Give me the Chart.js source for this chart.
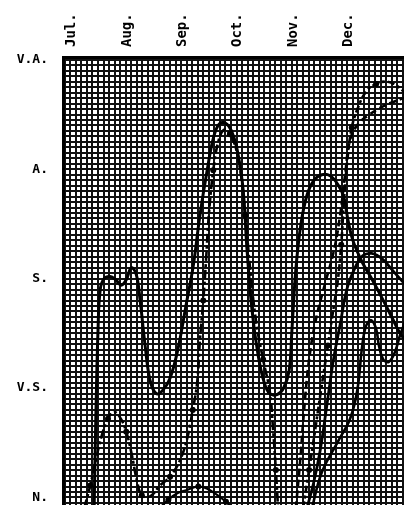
<!DOCTYPE html>
<html>
<head>
<meta charset="utf-8">
<script src="https://cdn.jsdelivr.net/npm/chart.js@4.4.1/dist/chart.umd.min.js"></script>
<style>
  html, body { margin: 0; padding: 0; background: #fff; }
</style>
</head>
<body>
<canvas id="chart" width="404" height="505"></canvas>
<script>
// month ticks along the top (0 = Jul.)
const months = ['Jul.', 'Aug.', 'Sep.', 'Oct.', 'Nov.', 'Dec.'];
const monthVals = [0, 1, 2, 3, 4, 5];

// levels up the left side
const levels = ['N.', 'V.S.', 'S.', 'A.', 'V.A.'];
const levelVals = [0, 1, 2, 3, 4];

// curves: [month position, level]
const mainCurve = [
  [0.43,-0.10],[0.46,0.71],[0.50,1.53],[0.54,1.90],[0.61,2.00],[0.72,2.02],[0.82,1.99],
  [0.92,1.94],[1.01,1.99],[1.10,2.10],[1.19,2.04],[1.26,1.80],[1.35,1.39],[1.44,1.07],
  [1.55,0.95],[1.67,0.98],[1.80,1.09],[1.94,1.35],[2.09,1.76],[2.22,2.12],[2.34,2.58],
  [2.47,2.99],[2.59,3.30],[2.70,3.42],[2.83,3.41],[2.94,3.31],[3.03,3.13],[3.12,2.81],
  [3.19,2.26],[3.28,1.71],[3.39,1.30],[3.50,1.05],[3.60,0.95],[3.73,0.94],[3.85,1.00],
  [3.95,1.16],[4.00,1.53],[4.07,2.08],[4.16,2.49],[4.27,2.76],[4.40,2.90],[4.54,2.95],
  [4.69,2.94],[4.83,2.86],[4.94,2.74],[5.01,2.54],[5.10,2.35],[5.27,2.15],[5.45,1.99],
  [5.63,1.82],[5.81,1.64],[5.95,1.50],[6.06,1.43]
];
const octInner = [
  [0.25,-0.10],[0.36,0.11],[0.46,0.34],[0.57,0.57],[0.68,0.72],[0.79,0.78],[0.90,0.73],
  [1.01,0.60],[1.11,0.39],[1.20,0.16],[1.29,0.02],[1.44,0.01],[1.62,0.11],[1.80,0.19],
  [1.98,0.34],[2.11,0.54],[2.21,0.80],[2.29,1.05],[2.34,1.44],[2.40,1.80],[2.45,2.17],
  [2.50,2.58],[2.58,2.99],[2.67,3.25],[2.77,3.36],[2.88,3.32],[2.99,3.19],[3.08,2.95],
  [3.16,2.58],[3.24,2.12],[3.35,1.62],[3.48,1.26],[3.60,0.97],[3.66,0.62],[3.71,0.25],
  [3.75,-0.10]
];
const bottomBump = [
  [1.59,-0.11],[1.77,-0.02],[1.94,0.04],[2.12,0.07],[2.31,0.10],[2.47,0.08],[2.63,0.03],
  [2.81,-0.04],[2.95,-0.11]
];
const decDotted = [
  [4.20,-0.10],[4.31,0.25],[4.42,0.62],[4.54,1.03],[4.65,1.39],[4.76,1.76],[4.83,1.99],
  [4.89,2.31],[4.94,2.72],[5.00,3.08],[5.08,3.38],[5.19,3.56],[5.34,3.71],[5.52,3.78],
  [5.72,3.80],[5.90,3.76],[6.06,3.69]
];
const decDashed = [
  [4.07,-0.10],[4.15,0.34],[4.22,0.80],[4.31,1.26],[4.43,1.62],[4.59,1.94],[4.76,2.26],
  [4.87,2.58],[4.96,2.95],[5.05,3.27],[5.19,3.41],[5.37,3.49],[5.59,3.56],[5.80,3.61],
  [6.06,3.66]
];
const decSolid = [
  [4.27,-0.10],[4.39,0.13],[4.51,0.43],[4.63,0.84],[4.75,1.26],[4.87,1.58],[4.99,1.90],
  [5.14,2.10],[5.28,2.21],[5.44,2.23],[5.63,2.18],[5.81,2.08],[5.95,2.00],[6.06,1.94]
];
const decLoop = [
  [4.36,-0.10],[4.54,0.23],[4.83,0.51],[5.05,0.72],[5.18,0.98],[5.27,1.39],[5.34,1.57],
  [5.43,1.62],[5.52,1.54],[5.57,1.39],[5.65,1.26],[5.75,1.24],[5.86,1.33],[5.95,1.48],
  [6.06,1.63]
];

const labelFont = { family: 'DejaVu Sans Mono', weight: 'bold' };

function curve(pts, opts) {
  return Object.assign({
    data: pts.map(p => ({ x: p[0], y: p[1] })),
    borderColor: '#000',
    backgroundColor: '#000',
    borderWidth: 2.4,
    pointRadius: 0,
    pointBorderWidth: 0,
    tension: 0.4,
    fill: false
  }, opts);
}

// every third point of a dotted curve gets a dot
const dotEvery3 = c => (c.dataIndex % 3 === 1 ? 3 : 0);

// one grid line per small square (10 per month, 20 per level)
function unitTicks(scale) {
  const t = [];
  for (let i = Math.ceil(scale.min); i <= Math.floor(scale.max); i++) t.push({ value: i });
  scale.ticks = t;
}

new Chart(document.getElementById('chart'), {
  type: 'line',
  data: {
    datasets: [
      curve(mainCurve, { borderWidth: 3 }),
      curve(octInner, { borderWidth: 2.6, borderDash: [9, 3, 3, 3], pointRadius: dotEvery3 }),
      curve(bottomBump, { borderWidth: 2.2, pointRadius: dotEvery3 }),
      curve(decDotted, { borderWidth: 2.6, borderDash: [7, 3, 3, 3], pointRadius: dotEvery3 }),
      curve(decDashed, { borderWidth: 2.6, borderDash: [7, 4] }),
      curve(decSolid, { borderWidth: 2.8 }),
      curve(decLoop, { borderWidth: 2.6 })
    ]
  },
  options: {
    responsive: false,
    animation: false,
    layout: { padding: 0, autoPadding: false },
    plugins: { legend: { display: false }, tooltip: { enabled: false } },
    scales: {
      x: {
        type: 'linear', position: 'top', min: -0.132, max: 6.023,
        grid: { display: false, drawTicks: false },
        border: { display: false },
        afterBuildTicks: s => { s.ticks = monthVals.map(v => ({ value: v })); },
        afterFit: s => { s.height = 57; s.paddingLeft = 0; s.paddingRight = 0; },
        ticks: {
          autoSkip: false, minRotation: 90, maxRotation: 90, padding: 10, labelOffset: 18,
          color: '#000', font: Object.assign({ size: 14 }, labelFont),
          callback: v => months[monthVals.indexOf(v)] || ''
        }
      },
      y: {
        type: 'linear', position: 'left', min: -0.069, max: 4.026,
        grid: { display: false, drawTicks: false },
        border: { display: false },
        afterBuildTicks: s => { s.ticks = levelVals.map(v => ({ value: v })); },
        afterFit: s => { s.width = 63; s.paddingTop = 0; s.paddingBottom = 0; },
        ticks: {
          autoSkip: false, padding: 15, color: '#000',
          font: Object.assign({ size: 13 }, labelFont),
          callback: v => levels[levelVals.indexOf(v)] || ''
        }
      },
      // grid-only axes sit next to the plot (low weight = innermost on top/left)
      xg: {
        axis: 'x', type: 'linear', position: 'top', weight: -10, min: -1.32, max: 60.23,
        afterBuildTicks: unitTicks,
        afterFit: s => { s.height = 0; },
        ticks: { display: false },
        grid: { color: '#111', lineWidth: 2, drawTicks: false },
        border: { display: true, width: 3, color: '#000' }
      },
      yg: {
        axis: 'y', type: 'linear', position: 'left', weight: -10, min: -1.38, max: 80.52,
        afterBuildTicks: unitTicks,
        afterFit: s => { s.width = 0; },
        ticks: { display: false },
        grid: { color: '#111', lineWidth: 2, drawTicks: false },
        border: { display: true, width: 3, color: '#000' }
      }
    }
  }
});
</script>
</body>
</html>
